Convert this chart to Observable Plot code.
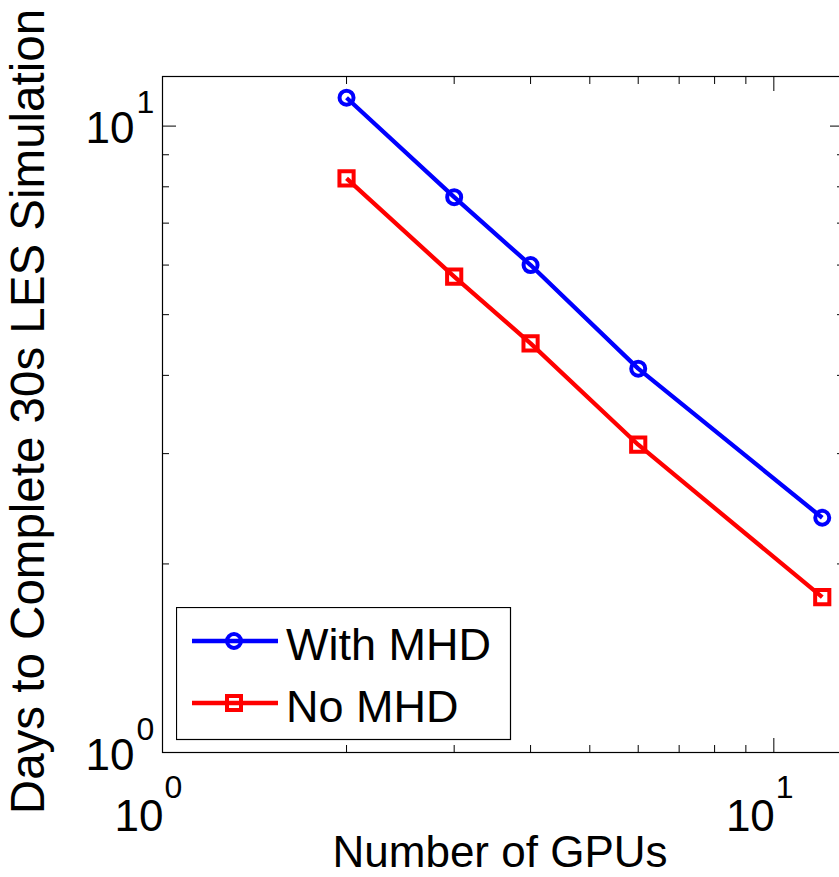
<!DOCTYPE html>
<html>
<head>
<meta charset="utf-8">
<script src="https://cdn.jsdelivr.net/npm/d3@7"></script>
<script src="https://cdn.jsdelivr.net/npm/@observablehq/plot@0.6"></script>
<style>
  html, body { margin: 0; padding: 0; background: #fff; overflow: hidden; }
  #wrap { position: relative; width: 839px; height: 877px; }
  #legend { position: absolute; left: 176px; top: 607px; }
</style>
</head>
<body>
<div id="wrap"></div>
<script>
// ---- data ----
const gpus = [2, 3, 4, 6, 12];
const withMHD = [11.1, 7.7, 6.0, 4.1, 2.37];
const noMHD = [8.25, 5.75, 4.5, 3.1, 1.77];
const seriesNames = ["With MHD", "No MHD"];
const seriesColors = ["#0000ff", "#ff0000"];
const seriesSymbols = ["circle", "square"];
const xMajorTicks = [1, 10];
const xMinorTicks = [2, 3, 4, 5, 6, 7, 8, 9];
const yMajorTicks = [1, 10];
const yMinorTicks = [2, 3, 4, 5, 6, 7, 8, 9];
const tickBase = "10";
const xTickExponents = ["0", "1"];
const yTickExponents = ["0", "1"];
const xTitle = "Number of GPUs";
const yTitle = "Days to Complete 30s LES Simulation";

const font = "'Liberation Sans', Arial, Helvetica, sans-serif";

const seriesTables = [withMHD, noMHD].map((vals, s) =>
  vals.map((v, i) => ({gpus: gpus[i], days: v, series: seriesNames[s]})));
const table = seriesTables.flat();
const xLabels = xMajorTicks.map((t, i) => ({t, e: xTickExponents[i]}));
const yLabels = yMajorTicks.map((t, i) => ({t, e: yTickExponents[i]}));

const majorLen = 14, minorLen = 7;

const chart = Plot.plot({
  width: 839,
  height: 877,
  marginLeft: 162,
  marginRight: -4,
  marginTop: 76,
  marginBottom: 125,
  style: {fontFamily: font, background: "#fff", color: "#000"},
  x: {type: "log", domain: [1, 13]},
  y: {type: "log", domain: [1, 12]},
  color: {domain: seriesNames, range: seriesColors},
  marks: [
    // inward ticks on all four sides
    Plot.axisX(xMajorTicks, {anchor: "bottom", tickSize: -majorLen, text: null, label: null, stroke: "#000"}),
    Plot.axisX(xMinorTicks, {anchor: "bottom", tickSize: -minorLen, text: null, label: null, stroke: "#000"}),
    Plot.axisX(xMajorTicks, {anchor: "top", tickSize: -majorLen, text: null, label: null, stroke: "#000"}),
    Plot.axisX(xMinorTicks, {anchor: "top", tickSize: -minorLen, text: null, label: null, stroke: "#000"}),
    Plot.axisY(yMajorTicks, {anchor: "left", tickSize: -majorLen, text: null, label: null, stroke: "#000"}),
    Plot.axisY(yMinorTicks, {anchor: "left", tickSize: -minorLen, text: null, label: null, stroke: "#000"}),
    Plot.axisY(yMajorTicks, {anchor: "right", tickSize: -majorLen, text: null, label: null, stroke: "#000"}),
    Plot.axisY(yMinorTicks, {anchor: "right", tickSize: -minorLen, text: null, label: null, stroke: "#000"}),
    Plot.frame({stroke: "#000", strokeWidth: 1.2}),
    // tick labels 10^n
    Plot.text(xLabels, {x: "t", frameAnchor: "bottom", text: () => tickBase, textAnchor: "end", lineAnchor: "bottom", dx: 1, dy: 78, fontSize: 44, fill: "#000"}),
    Plot.text(xLabels, {x: "t", frameAnchor: "bottom", text: "e", textAnchor: "start", lineAnchor: "bottom", dx: 2, dy: 45, fontSize: 32, fill: "#000"}),
    Plot.text(yLabels, {y: "t", frameAnchor: "left", text: () => tickBase, textAnchor: "end", lineAnchor: "bottom", dx: -28, dy: 17, fontSize: 44, fill: "#000"}),
    Plot.text(yLabels, {y: "t", frameAnchor: "left", text: "e", textAnchor: "start", lineAnchor: "bottom", dx: -26, dy: -13, fontSize: 32, fill: "#000"}),
    // axis titles
    Plot.text([xTitle], {frameAnchor: "bottom", text: d => d, textAnchor: "middle", lineAnchor: "bottom", dx: -3, dy: 114, fontSize: 44, fill: "#000"}),
    Plot.text([yTitle], {frameAnchor: "left", text: d => d, textAnchor: "middle", rotate: -90, lineAnchor: "middle", dx: -134, dy: -3, fontSize: 47.5, fill: "#000"}),
    // data
    Plot.line(table, {x: "gpus", y: "days", z: "series", stroke: "series", strokeWidth: 4.3, strokeLinecap: "butt"}),
    Plot.dot(seriesTables[0], {x: "gpus", y: "days", stroke: seriesColors[0], symbol: "circle", r: 7, strokeWidth: 4, fill: "none"}),
    Plot.dot(seriesTables[1], {x: "gpus", y: "days", stroke: seriesColors[1], symbol: "square", r: 8, strokeWidth: 4, fill: "none"})
  ]
});

const wrap = document.getElementById("wrap");
wrap.appendChild(chart);

// legend (inside the axes, lower-left)
const lw = 334, lh = 132;
const leg = d3.select(wrap).append("svg").attr("id", "legend")
  .attr("width", lw + 2).attr("height", lh + 2);
leg.append("rect").attr("x", 0.5).attr("y", 0.5).attr("width", lw).attr("height", lh)
  .attr("fill", "#fff").attr("stroke", "#000").attr("stroke-width", 1.2);
seriesNames.forEach((name, i) => {
  const cy = 34 + i * 62;
  const g = leg.append("g");
  g.append("line").attr("x1", 16).attr("x2", 102).attr("y1", cy).attr("y2", cy)
    .attr("stroke", seriesColors[i]).attr("stroke-width", 4.3);
  if (seriesSymbols[i] === "circle") {
    g.append("circle").attr("cx", 58).attr("cy", cy).attr("r", 7)
      .attr("fill", "none").attr("stroke", seriesColors[i]).attr("stroke-width", 4);
  } else {
    g.append("rect").attr("x", 51).attr("y", cy - 7).attr("width", 14).attr("height", 14)
      .attr("fill", "none").attr("stroke", seriesColors[i]).attr("stroke-width", 4);
  }
  g.append("text").attr("x", 110).attr("y", cy + 19).text(name)
    .attr("font-family", font).attr("font-size", 45).attr("fill", "#000");
});
</script>
</body>
</html>
